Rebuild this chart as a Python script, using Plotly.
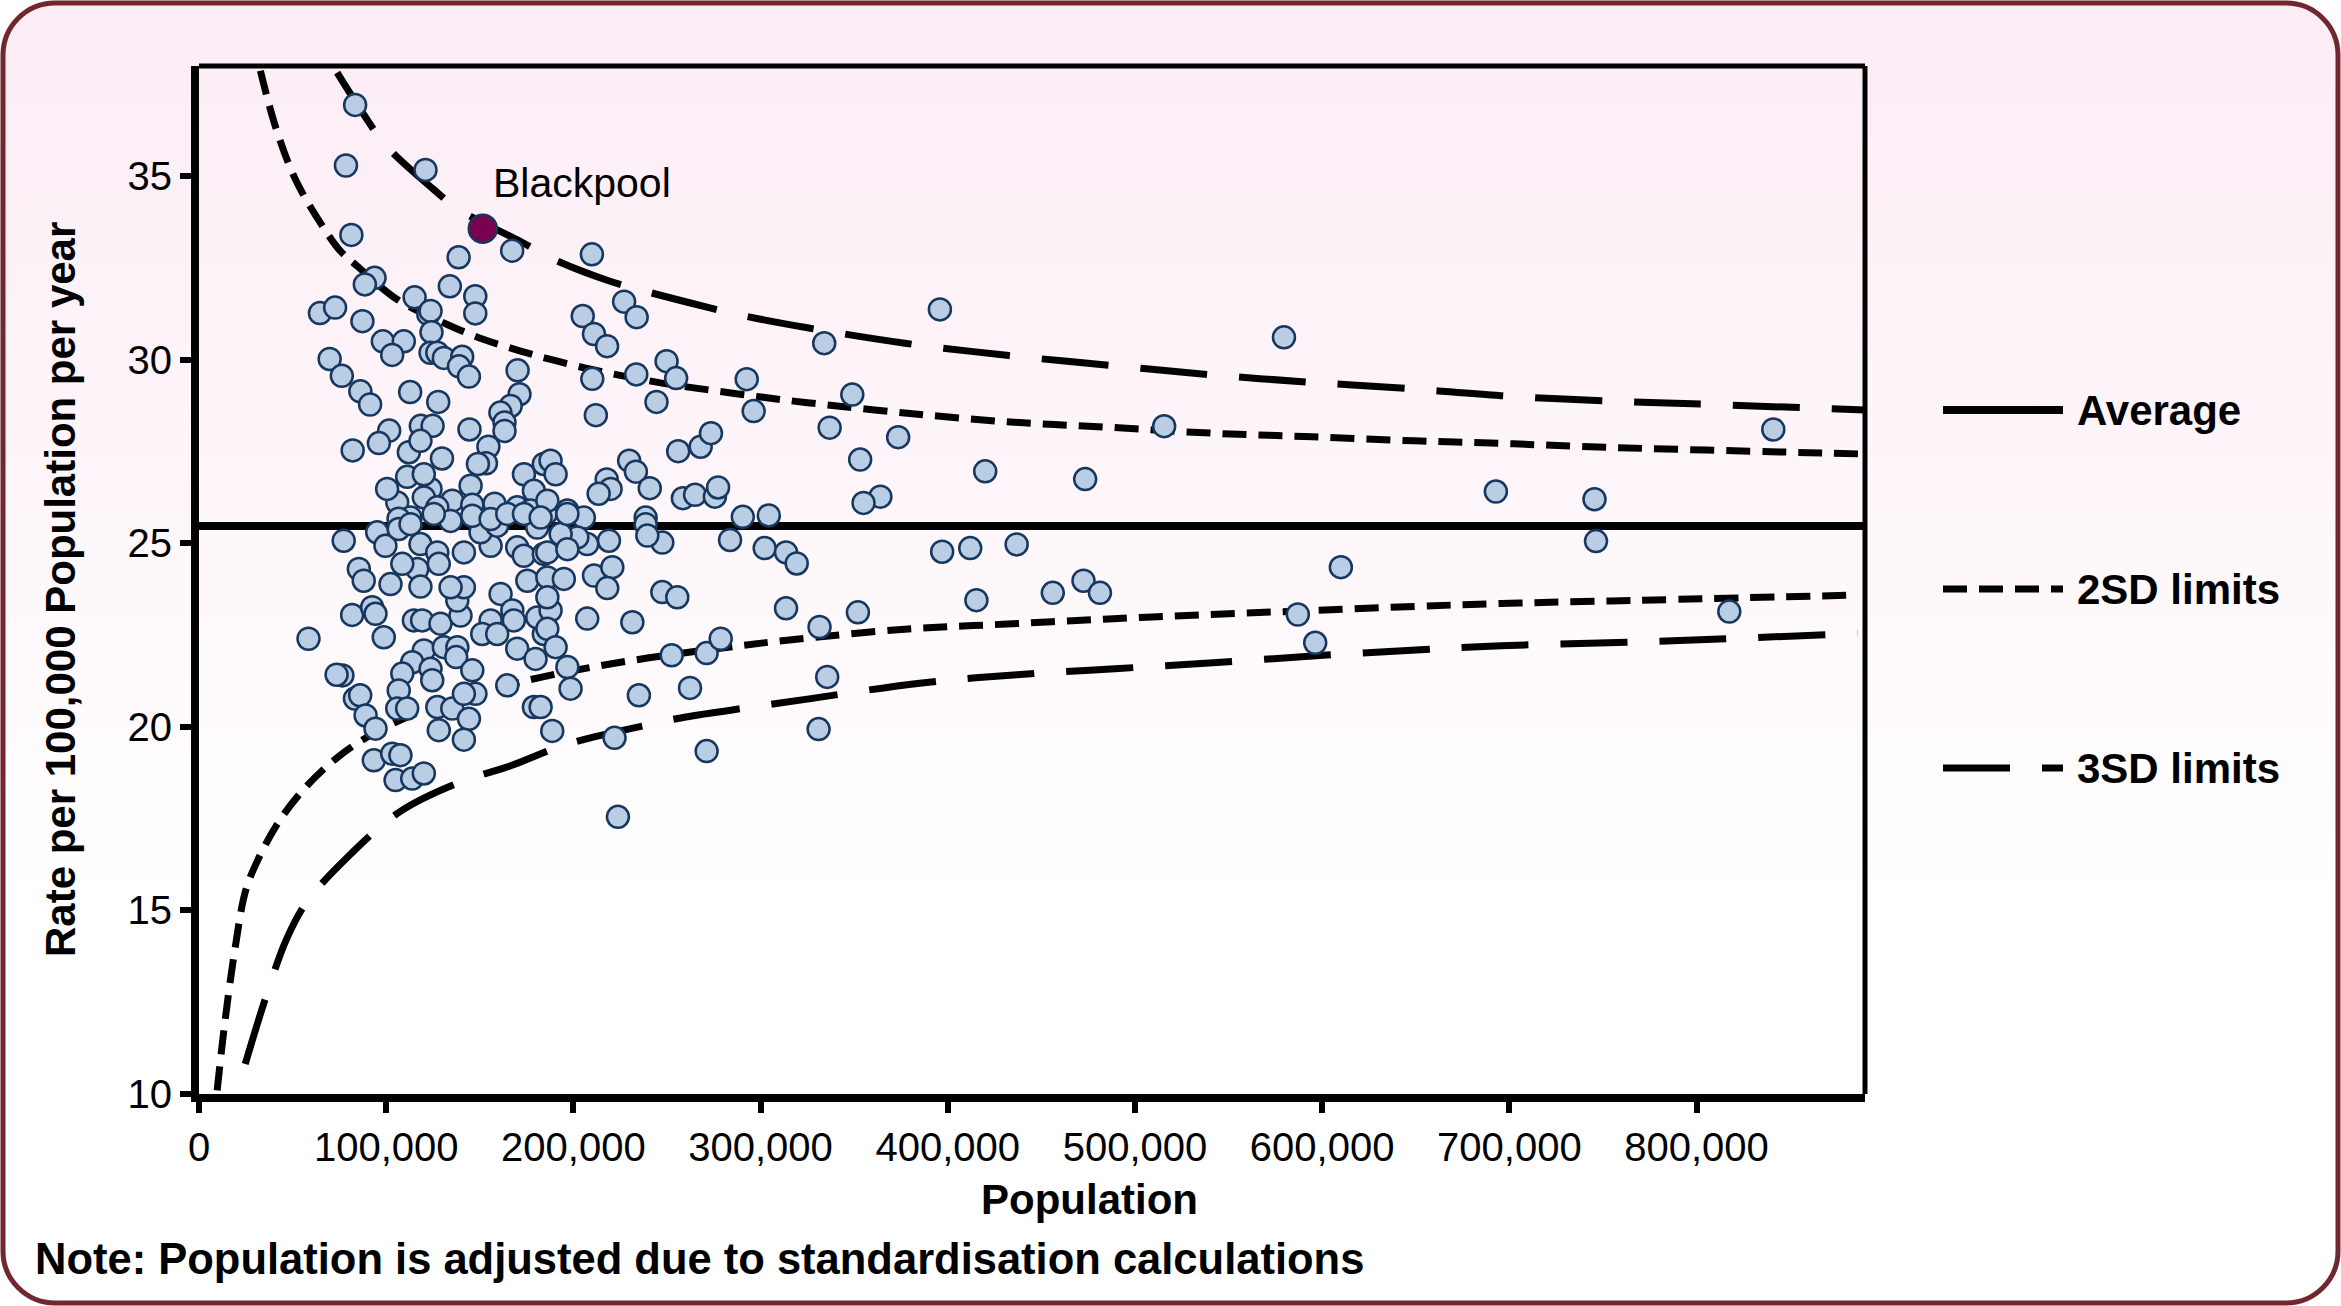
import base64
import plotly.graph_objects as go

# ---------------- data ----------------
POPULATION = [
    83400, 78500, 121000, 81400, 167300, 138700, 209900, 134000, 147600, 147600,
    93800, 88600, 115200, 122500, 123700, 124200, 64600, 72700, 87300, 98200,
    109400, 103200, 123700, 127300, 130800, 140600, 138900, 144200, 69800, 76300,
    170200, 205000, 211000, 218000, 227100, 233800, 210100, 233600, 249800, 254900,
    292600, 296300, 244400, 212000, 171200, 166500, 161000, 163200, 163200, 144500,
    127800, 112800, 86200, 91400, 101600, 96100, 82100, 118500, 124800, 112100,
    118300, 129800, 154600, 153300, 149000, 229800, 233400, 240800, 256000, 268000,
    273500, 217800, 219900, 213500, 258500, 265000, 275600, 277300, 290500, 304400,
    283700, 302200, 313600, 319300, 111200, 105900, 100500, 123700, 120100, 135300,
    145100, 146000, 157900, 173600, 178900, 184200, 170000, 177100, 185200, 120100,
    127300, 113000, 106600, 187800, 190500, 186100, 196800, 205600, 238600, 77300,
    95200, 99600, 106700, 113000, 118300, 127300, 128100, 116600, 108600, 85400,
    88000, 102300, 118300, 81800, 92500, 94300, 98700, 58500, 114800, 119200,
    129000, 139700, 138000, 141500, 134400, 134400, 141500, 155800, 150400, 159300,
    170000, 173500, 175400, 180700, 161100, 167400, 168200, 155800, 151300, 159300,
    170000, 179800, 184200, 120100, 130800, 138000, 137400, 146000, 113900, 108600,
    106700, 123700, 124600, 76600, 73500, 83300, 86100, 89000, 94300, 105900,
    111200, 127300, 135300, 144200, 147700, 141500, 128100, 141500, 164700, 178900,
    93400, 103200, 107600, 105000, 113900, 120100, 125400, 146000, 155800, 164700,
    173600, 182500, 184200, 180700, 238600, 247500, 239500, 219000, 207400, 202100,
    193200, 186100, 196800, 186100, 194900, 211000, 220800, 218100, 247500, 255500,
    187800, 186100, 190500, 196800, 198500, 207400, 231500, 182500, 188700, 235000,
    252500, 271200, 278700, 262300, 222000, 271200, 223800, 313600, 331500, 331000,
    196800, 186100, 395800, 334000, 349000, 336900, 373500, 353200, 420000, 473400,
    515600, 579600, 610000, 364000, 355000, 397000, 412000, 436800, 472500, 481300,
    456100, 415300, 352000, 335600, 587000, 596300, 841000, 692800, 745500, 746300,
    817500,
]
RATE = [
    36.94, 35.29, 35.17, 33.40, 32.97, 32.79, 32.87, 32.00, 31.73, 31.26,
    32.23, 32.05, 31.70, 31.24, 31.33, 30.75, 31.27, 31.42, 31.05, 30.50,
    30.50, 30.13, 30.19, 30.19, 30.05, 30.08, 29.82, 29.54, 30.02, 29.56,
    29.71, 31.19, 30.70, 30.37, 31.58, 31.16, 29.48, 29.60, 29.96, 29.50,
    29.47, 28.60, 28.85, 28.49, 29.06, 28.74, 28.56, 28.29, 28.06, 28.10,
    28.85, 29.12, 29.14, 28.78, 28.07, 27.73, 27.53, 28.20, 28.20, 27.48,
    27.79, 27.31, 27.63, 27.18, 27.16, 27.25, 26.95, 26.50, 27.51, 27.63,
    28.00, 26.74, 26.48, 26.35, 26.23, 26.32, 26.27, 26.52, 25.72, 25.76,
    25.09, 24.87, 24.75, 24.45, 26.81, 26.11, 26.48, 26.48, 26.88, 26.16,
    26.57, 26.05, 26.08, 26.88, 26.43, 27.16, 25.98, 25.89, 25.80, 26.25,
    25.98, 25.70, 25.67, 27.25, 26.88, 26.16, 25.89, 25.70, 25.70, 25.07,
    25.30, 24.93, 25.39, 25.52, 24.98, 24.75, 24.44, 24.30, 24.44, 24.30,
    23.98, 23.89, 23.82, 23.05, 23.26, 23.08, 22.44, 22.40, 22.90, 22.90,
    22.81, 23.03, 23.44, 23.80, 23.80, 25.61, 24.75, 24.93, 25.30, 25.48,
    24.89, 24.66, 23.98, 25.43, 23.62, 23.17, 22.90, 22.90, 22.53, 22.53,
    22.13, 21.85, 22.53, 22.08, 22.17, 22.17, 21.90, 21.54, 21.76, 21.45,
    20.99, 21.58, 21.27, 21.40, 21.42, 20.77, 20.86, 20.31, 19.95, 20.50,
    20.50, 20.54, 20.50, 20.22, 20.90, 20.90, 19.91, 19.65, 21.13, 20.54,
    19.09, 19.27, 19.23, 18.55, 18.59, 18.73, 25.80, 25.75, 25.66, 25.80,
    25.80, 25.70, 24.71, 22.98, 25.52, 25.02, 25.21, 25.07, 24.98, 25.16,
    25.25, 24.75, 24.84, 24.07, 24.03, 24.12, 24.35, 23.78, 23.67, 23.53,
    23.17, 22.67, 22.17, 21.63, 21.04, 22.95, 22.85, 20.54, 19.89, 20.86,
    21.95, 22.01, 22.40, 21.06, 19.70, 19.34, 17.55, 23.23, 22.72, 19.94,
    25.80, 23.53, 31.37, 30.45, 29.05, 28.15, 27.89, 27.28, 26.96, 26.75,
    28.19, 30.61, 24.35, 26.27, 26.10, 24.77, 24.87, 24.97, 23.98, 23.65,
    23.65, 23.45, 23.12, 21.36, 23.06, 22.29, 28.10, 26.41, 26.20, 25.06,
    23.14,
]

HIGHLIGHT_NAME = "Blackpool"
HIGHLIGHT_POP = 151600
HIGHLIGHT_RATE = 33.57

AVERAGE = 25.47

UPPER_2SD_POP = [32800, 41100, 52000, 68400, 75700, 84500, 105900, 132600, 152200, 170900,
                 187800, 209200, 246600, 273300, 305400, 325000, 377000, 431500, 486000,
                 540600, 595000, 649500, 695500, 754400, 866500, 890600]
UPPER_2SD = [37.87, 36.31, 34.86, 33.45, 32.95, 32.55, 31.64, 30.96, 30.55, 30.25,
             30.01, 29.74, 29.37, 29.17, 28.95, 28.83, 28.55, 28.31, 28.16,
             28.00, 27.90, 27.79, 27.72, 27.61, 27.46, 27.43]

LOWER_2SD_POP = [9700, 13800, 19300, 24700, 30200, 42400, 57400, 73800, 90200,
                 117500, 152900, 182500, 209200, 240400, 287600, 317900, 377000,
                 431500, 486000, 540600, 595000, 649500, 695500, 754400, 886000]
LOWER_2SD = [10.10, 11.95, 13.98, 15.50, 16.24, 17.40, 18.38, 19.16, 19.73,
             20.40, 20.97, 21.35, 21.62, 21.88, 22.20, 22.38, 22.66,
             22.80, 22.94, 23.06, 23.17, 23.28, 23.36, 23.43, 23.59]

UPPER_3SD_POP = [73800, 88000, 99700, 125100, 138800, 171800, 187800, 218800, 238000,
                 272400, 289800, 325000, 377000, 431500, 486000, 540600, 592400, 647000,
                 695500, 754400, 808900, 890600]
UPPER_3SD = [37.82, 36.68, 35.84, 34.65, 34.09, 33.22, 32.77, 32.15, 31.87,
             31.42, 31.21, 30.87, 30.45, 30.12, 29.85, 29.59, 29.39, 29.21,
             29.02, 28.87, 28.78, 28.63]

LOWER_3SD_POP = [24700, 35600, 46600, 57400, 79300, 107600, 139700, 166500, 190500,
                 207400, 243000, 260000, 295600, 326800, 385000, 437000, 491500, 546000,
                 600600, 652500, 695500, 780000, 886000]
LOWER_3SD = [10.82, 12.62, 14.20, 15.22, 16.45, 17.70, 18.50, 18.94, 19.42,
             19.68, 20.09, 20.27, 20.54, 20.77, 21.19, 21.42, 21.59, 21.76,
             21.95, 22.10, 22.21, 22.33, 22.55]

X_RANGE = [0, 890000]
Y_RANGE = [10, 38]
X_TICKS = [0, 100000, 200000, 300000, 400000, 500000, 600000, 700000, 800000]
Y_TICKS = [10, 15, 20, 25, 30, 35]

X_TITLE = "Population"
Y_TITLE = "Rate per 100,000 Population per year"
NOTE = "Note: Population is adjusted due to standardisation calculations"
LEGEND_LABELS = ["Average", "2SD limits", "3SD limits"]

# ---------------- layout helpers ----------------
W, H = 2341, 1306
ML, MR, MT, MB = 199, 476, 66, 212
PW = W - ML - MR
PH = H - MT - MB


def px(xp):
    return (xp - ML) / PW


def py(yp):
    return (MT + PH - yp) / PH


FONT = "Arial, 'Liberation Sans', Helvetica, sans-serif"
DASH_2SD = "24px,12px"
DASH_3SD = "67px,32px"

svg = f'''<svg xmlns="http://www.w3.org/2000/svg" width="{W}" height="{H}" viewBox="0 0 {W} {H}">
<defs><linearGradient id="g" x1="0" y1="0" x2="0" y2="1">
<stop offset="0" stop-color="#FCECF5"/><stop offset="0.45" stop-color="#FEF8FB"/>
<stop offset="0.7" stop-color="#FFFFFF"/><stop offset="1" stop-color="#FFFFFF"/></linearGradient></defs>
<rect x="3" y="3" width="{W-6}" height="{H-6}" rx="52" ry="52" fill="url(#g)" stroke="#722630" stroke-width="5"/>
</svg>'''
bg_src = "data:image/svg+xml;base64," + base64.b64encode(svg.encode()).decode()

fig = go.Figure()

line_specs = [
    (UPPER_3SD_POP, UPPER_3SD, DASH_3SD),
    (LOWER_3SD_POP, LOWER_3SD, DASH_3SD),
    (UPPER_2SD_POP, UPPER_2SD, DASH_2SD),
    (LOWER_2SD_POP, LOWER_2SD, DASH_2SD),
]
for xs, ys, dash in line_specs:
    fig.add_trace(go.Scatter(
        x=xs, y=ys, mode="lines",
        line=dict(color="black", width=7, dash=dash, shape="spline"),
        hoverinfo="skip", showlegend=False,
    ))

fig.add_trace(go.Scatter(
    x=X_RANGE, y=[AVERAGE, AVERAGE], mode="lines",
    line=dict(color="black", width=8), hoverinfo="skip", showlegend=False,
))

fig.add_trace(go.Scatter(
    x=POPULATION, y=RATE, mode="markers",
    marker=dict(size=22, color="#B9CDE5", line=dict(color="#17375E", width=2.5)),
    showlegend=False,
))

fig.add_trace(go.Scatter(
    x=[HIGHLIGHT_POP], y=[HIGHLIGHT_RATE], mode="markers",
    marker=dict(size=28, color="#7A0050", line=dict(color="#17375E", width=2.5)),
    showlegend=False,
))

annotations = [
    dict(x=HIGHLIGHT_POP, y=HIGHLIGHT_RATE, xref="x", yref="y", text=HIGHLIGHT_NAME,
         showarrow=False, xanchor="left", yanchor="middle", xshift=8, yshift=46,
         font=dict(family=FONT, size=41, color="black")),
    dict(x=px(1089), y=py(1199), xref="paper", yref="paper", text=f"<b>{X_TITLE}</b>",
         showarrow=False, xanchor="center", yanchor="middle",
         font=dict(family=FONT, size=42, color="black")),
    dict(x=px(60), y=py(590), xref="paper", yref="paper", text=f"<b>{Y_TITLE}</b>",
         showarrow=False, xanchor="center", yanchor="middle", textangle=-90,
         font=dict(family=FONT, size=42, color="black")),
    dict(x=px(33), y=py(1259), xref="paper", yref="paper", text=f"<b>{NOTE}</b>",
         showarrow=False, xanchor="left", yanchor="middle",
         font=dict(family=FONT, size=43.5, color="black")),
]

shapes = [
    dict(type="line", xref="paper", yref="paper", x0=0, x1=1, y0=1, y1=1,
         line=dict(color="black", width=5)),
    dict(type="line", xref="paper", yref="paper", x0=1, x1=1, y0=0, y1=1,
         line=dict(color="black", width=5)),
]

legend_y = [410, 589, 768]
legend_dash = ["solid", DASH_2SD, DASH_3SD]
legend_width = [8, 7, 7]
for label, yy, dash, lw in zip(LEGEND_LABELS, legend_y, legend_dash, legend_width):
    shapes.append(dict(type="line", xref="paper", yref="paper",
                       x0=px(1943), x1=px(2063), y0=py(yy), y1=py(yy),
                       line=dict(color="black", width=lw, dash=dash)))
    annotations.append(dict(x=px(2075), y=py(yy), xref="paper", yref="paper",
                            text=f"<b>{label}</b>", showarrow=False,
                            xanchor="left", yanchor="middle",
                            font=dict(family=FONT, size=42, color="black")))

axis_common = dict(
    ticks="outside", ticklen=11, tickwidth=6, tickcolor="black",
    showline=True, linewidth=8, linecolor="black",
    showgrid=False, zeroline=False,
    tickfont=dict(family=FONT, size=40, color="black"),
)

fig.update_layout(
    width=W, height=H,
    margin=dict(l=ML, r=MR, t=MT, b=MB, pad=0),
    paper_bgcolor="white",
    plot_bgcolor="rgba(0,0,0,0)",
    showlegend=False,
    xaxis=dict(range=X_RANGE, tickmode="array", tickvals=X_TICKS, tickformat=",d", **axis_common),
    yaxis=dict(range=Y_RANGE, tickmode="array", tickvals=Y_TICKS, **axis_common),
    annotations=annotations,
    shapes=shapes,
    images=[dict(source=bg_src, xref="paper", yref="paper", x=px(0), y=py(0),
                 sizex=W / PW, sizey=H / PH, xanchor="left", yanchor="top",
                 sizing="stretch", layer="below")],
    font=dict(family=FONT, color="black"),
)

fig.write_html("out.html")
